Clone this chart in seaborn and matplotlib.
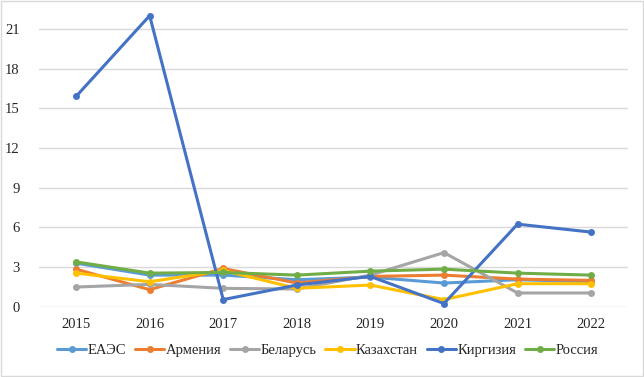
import seaborn as sns
import pandas as pd
import matplotlib.pyplot as plt
from matplotlib.patches import Rectangle

years = ["2015", "2016", "2017", "2018", "2019", "2020", "2021", "2022"]
eaes = [3.3, 2.4, 2.4, 2.05, 2.25, 1.8, 2.05, 1.9]
armenia = [2.85, 1.3, 2.9, 1.8, 2.3, 2.4, 2.1, 2.0]
belarus = [1.5, 1.7, 1.4, 1.35, 2.4, 4.1, 1.05, 1.05]
kazakhstan = [2.55, 1.9, 2.75, 1.4, 1.65, 0.55, 1.75, 1.75]
kyrgyzstan = [15.9, 22.0, 0.55, 1.65, 2.3, 0.25, 6.25, 5.65]
russia = [3.4, 2.55, 2.6, 2.4, 2.7, 2.85, 2.55, 2.4]

series = {
    "ЕАЭС": eaes,
    "Армения": armenia,
    "Беларусь": belarus,
    "Казахстан": kazakhstan,
    "Киргизия": kyrgyzstan,
    "Россия": russia,
}
colors = ["#5B9BD5", "#ED7D31", "#A5A5A5", "#FFC000", "#4472C4", "#70AD47"]

rows = []
for name, vals in series.items():
    for i, v in enumerate(vals):
        rows.append({"pos": i, "value": v, "country": name})
df = pd.DataFrame(rows)

sns.set_style("white")
plt.rcParams["font.family"] = ["Liberation Serif", "DejaVu Serif"]

fig = plt.figure(figsize=(6.44, 3.77), dpi=100)
ax = fig.add_axes([0.061, 0.186, 0.914, 0.79])

sns.lineplot(data=df, x="pos", y="value", hue="country", palette=colors,
             marker="o", markersize=5, markeredgewidth=0, linewidth=2.2,
             dashes=False, ax=ax)

ax.set_xlim(-0.5, 7.5)
ax.set_ylim(0, 22.5)
ax.set_xticks(range(len(years)))
ax.set_xticklabels(years, fontsize=10.5)
ax.set_yticks(range(0, 22, 3))
ax.tick_params(axis="y", labelsize=10.5, length=0, pad=14)
ax.tick_params(axis="x", length=0, pad=8)
ax.grid(axis="y", color="#D9D9D9", linewidth=1)
ax.set_axisbelow(True)
for s in ax.spines.values():
    s.set_visible(False)
ax.set_xlabel("")
ax.set_ylabel("")

# legend below the plot, one row
handles, labels = ax.get_legend_handles_labels()
ax.legend(handles, labels, loc="center", bbox_to_anchor=(0.49, -0.145),
          ncol=6, frameon=False, fontsize=10.5, handlelength=2.0,
          handletextpad=0.1, columnspacing=0.6)

fig.patches.append(Rectangle((0.001, 0.002), 0.997, 0.996, transform=fig.transFigure,
                             fill=False, edgecolor="#D9D9D9", linewidth=1))

fig.savefig("out.png", dpi=100)
